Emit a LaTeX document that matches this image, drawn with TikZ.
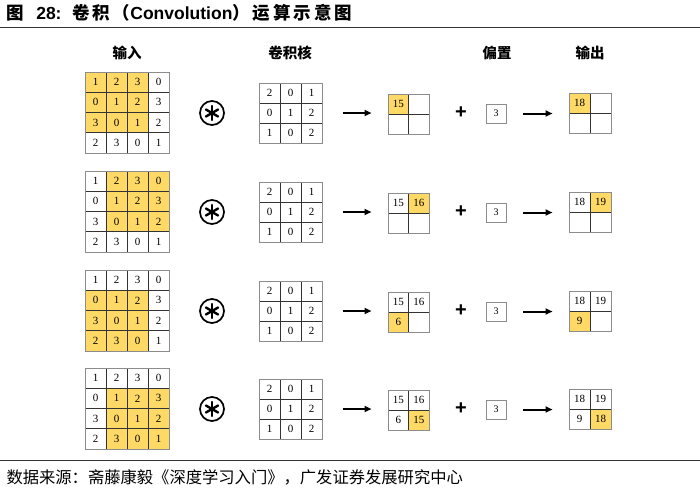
\documentclass[tikz,border=0pt]{standalone}
\usepackage{fontspec}
\setmainfont{Liberation Serif}
\newfontfamily\cjk{Noto Sans CJK SC}
\newfontfamily\sans{Liberation Sans}
\usepackage{tikz}
\usetikzlibrary{arrows.meta}
\definecolor{winyellow}{RGB}{255,217,102}
\tikzset{
  cell/.style={draw=black!80, line width=0.6pt, inner sep=0pt, font=\fontsize{11}{11}\selectfont},
  box/.style={draw=gray!90, line width=1pt, inner sep=0pt},
  win/.style={fill=winyellow, inner sep=0pt},
  head/.style={font=\cjk\bfseries\fontsize{14.5}{15}\selectfont},
  arr/.style={-{Triangle[length=7pt,width=6pt]}, line width=2pt},
}

\begin{document}
\begin{tikzpicture}[x=1pt, y=-1pt]
\useasboundingbox (0,0) rectangle (700,488);
%%%%% Title %%%%%
\node[anchor=west, font=\cjk\bfseries\fontsize{17.5}{18}\selectfont] (title) at (3,13)
  {图\hspace{0.7em}{\sans 28:}\hspace{0.6em}卷\,积\,（{\sans Convolution}）\,运\,算\,示\,意\,图};
\draw[line width=0.8pt, black!80] (0,27) -- (700,27);
%%%%% Headers %%%%%
\node[head] (hin) at (127,53) {输入};
\node[head] (hker) at (290,53) {卷积核};
\node[head] (hbias) at (497,53) {偏置};
\node[head] (hout) at (590,53) {输出};
%%%%% Rows %%%%%
\foreach \r/\wi/\wj/\dy in {0/0/0/0,1/0/1/99,2/1/0/198,3/1/1/296}{
  % input with window
  \node[win, minimum width=63pt, minimum height=60.75pt] (win\r) at (116.5+21*\wj, 102.4+20.25*\wi+\dy) {};
  \foreach \vals [count=\i from 0] in {{1,2,3,0},{0,1,2,3},{3,0,1,2},{2,3,0,1}}
    \foreach \v [count=\j from 0] in \vals
      \node[cell, minimum width=21pt, minimum height=20.25pt] (in\r-\i-\j) at (95.5+21*\j, 82.1+20.25*\i+\dy) {\v};
  \node[box, minimum width=84pt, minimum height=81pt] (inbox\r) at (127,112.5+\dy) {};
  % operator
  \node[circle, draw, line width=1.7pt, minimum size=24pt] (star\r) at (212,113+\dy) {};
  \foreach \a in {90,150,...,390}
    \draw[line width=2.4pt, line cap=round] (star\r.center) -- ++(\a:7);
  % kernel
  \foreach \vals [count=\i from 0] in {{2,0,1},{0,1,2},{1,0,2}}
    \foreach \v [count=\j from 0] in \vals
      \node[cell, minimum width=21pt, minimum height=20pt] (ker\r-\i-\j) at (269.5+21*\j, 93+20*\i+\dy) {\v};
  \node[box, minimum width=63pt, minimum height=60pt] (kerbox\r) at (290.5,113+\dy) {};
  % convolution result and output
  \foreach \k/\ci/\cj/\cv/\ov in {0/0/0/15/18,1/0/1/16/19,2/1/0/6/9,3/1/1/15/18}{
    \ifnum\k=\r \def\cf{winyellow}\else\def\cf{white}\fi
    \node[cell, fill=\cf, minimum width=20.5pt, minimum height=20pt] (conv\r-\k) at (398.25+20.5*\cj, 104+20*\ci+\dy) {\ifnum\k>\r\else\cv\fi};
    \node[cell, fill=\cf, minimum width=21pt, minimum height=20pt] (out\r-\k) at (579.5+21*\cj, 103+20*\ci+\dy) {\ifnum\k>\r\else\ov\fi};
  }
  \node[box, minimum width=41pt, minimum height=40pt] (convbox\r) at (408.5,114+\dy) {};
  \node[box, minimum width=42pt, minimum height=40pt] (outbox\r) at (590,113+\dy) {};
  % bias
  \node[font=\sans\bfseries\fontsize{20}{20}\selectfont] (plus\r) at (461,113+\dy) {+};
  \node[cell, draw=gray!90, minimum width=20pt, minimum height=19pt, font=\fontsize{10}{10}\selectfont] (bias\r) at (496,113.5+\dy) {3};
  % arrows
  \draw[arr, shorten <=20pt, shorten >=16pt] (kerbox\r.east) -- (kerbox\r.east -| convbox\r.west);
  \draw[arr, shorten <=17pt, shorten >=16pt] (bias\r.east) -- (bias\r.east -| outbox\r.west);
}
%%%%% Source %%%%%
\draw[line width=0.8pt, black!80] (0,460) -- (700,460);
\node[anchor=west, font=\cjk\fontsize{16.3}{17}\selectfont] (src) at (3,477)
  {数据来源：斋藤康毅《深度学习入门》，广发证券发展研究中心};
\end{tikzpicture}
\end{document}
